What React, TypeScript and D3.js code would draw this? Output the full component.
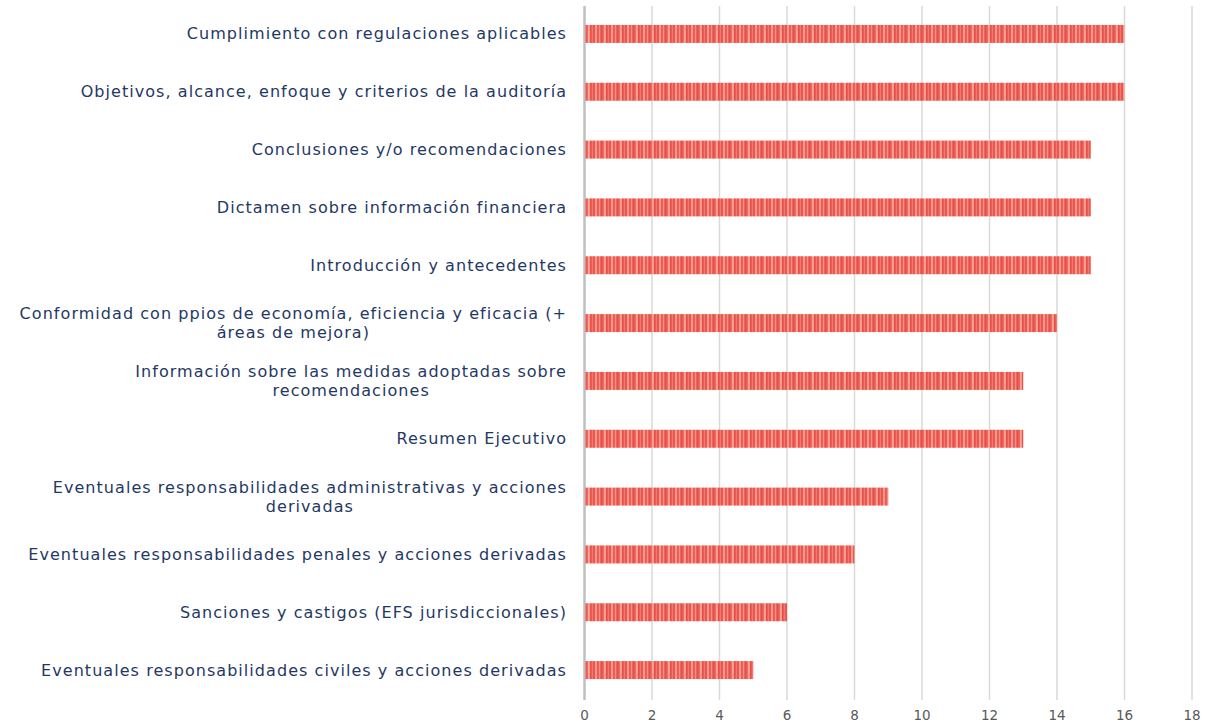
import React from "react";
import * as d3 from "d3";

// Topics, ordered from most to least frequent
const categories: string[][] = [
  ["Cumplimiento con regulaciones aplicables"],
  ["Objetivos, alcance, enfoque y criterios de la auditoría"],
  ["Conclusiones y/o recomendaciones"],
  ["Dictamen sobre información financiera"],
  ["Introducción y antecedentes"],
  ["Conformidad con ppios de economía, eficiencia y eficacia (+", "áreas de mejora)"],
  ["Información sobre las medidas adoptadas sobre", "recomendaciones"],
  ["Resumen Ejecutivo"],
  ["Eventuales responsabilidades administrativas y acciones", "derivadas"],
  ["Eventuales responsabilidades penales y acciones derivadas"],
  ["Sanciones y castigos (EFS jurisdiccionales)"],
  ["Eventuales responsabilidades civiles y acciones derivadas"],
];
const values: number[] = [16, 16, 15, 15, 15, 14, 13, 13, 9, 8, 6, 5];
const xTicks: number[] = [0, 2, 4, 6, 8, 10, 12, 14, 16, 18];

const W = 1207;
const H = 724;
const left = 584.5;
const right = 1192;
const top = 5;
const bottom = 699;

// vertical stripe tile used as bar fill
const stripes: [number, number, string][] = [
  [0, 1.5, "#e5392f"],
  [2.2, 1.2, "#ea5249"],
  [4, 1.2, "#fbd4cf"],
  [5.4, 1.5, "#e5392f"],
  [7.6, 1.0, "#ee6b61"],
  [9, 1.4, "#e5392f"],
  [10.9, 1.4, "#f9c3bc"],
  [12.6, 1.5, "#e63d33"],
  [14.6, 1.0, "#f29a91"],
];

export default function App() {
  const x = d3.scaleLinear().domain([0, 18]).range([left, right]);
  const y = d3
    .scaleBand<number>()
    .domain(d3.range(categories.length))
    .range([top, bottom])
    .paddingInner(0.69)
    .paddingOuter(0.345);
  const barH = 18;
  const font = "'DejaVu Sans', sans-serif";
  const labelRight = 567;
  const lineH = 19;

  return (
    <svg width={W} height={H} style={{ position: "absolute", left: 0, top: 0, background: "#fff" }}>
      <defs>
        <pattern id="barStripes" patternUnits="userSpaceOnUse" width={16} height={20} x={left}>
          <rect width={16} height={20} fill="#f3877d" />
          {stripes.map(([sx, sw, c], i) => (
            <rect key={i} x={sx} y={0} width={sw} height={20} fill={c} />
          ))}
        </pattern>
      </defs>
      {/* gridlines */}
      {xTicks.map((t) => (
        <line
          key={t}
          x1={x(t)}
          x2={x(t)}
          y1={6}
          y2={700}
          stroke={t === 0 ? "#bfbfbf" : "#d9d9d9"}
          strokeWidth={t === 0 ? 2.5 : 1.5}
        />
      ))}
      {/* bars */}
      {values.map((v, i) => {
        const cy = (y(i) as number) + y.bandwidth() / 2;
        return (
          <rect
            key={i}
            x={x(0) + 1}
            y={cy - barH / 2}
            width={x(v) - x(0) - 1}
            height={barH}
            fill="url(#barStripes)"
          />
        );
      })}
      {/* category labels */}
      {categories.map((lines, i) => {
        const cy = (y(i) as number) + y.bandwidth() / 2;
        const n = lines.length;
        return (
          <text
            key={i}
            fontFamily={font}
            fontSize={16}
            letterSpacing={1.05}
            fill="#1f3864"
            textAnchor={n > 1 ? "middle" : "end"}
            ref={(el) => {
              if (!el || n === 1) return;
              const first = el.querySelector("tspan") as SVGTextContentElement | null;
              if (!first) return;
              const w = first.getComputedTextLength();
              const cx = labelRight - w / 2;
              el.querySelectorAll("tspan").forEach((t) => t.setAttribute("x", String(cx)));
            }}
          >
            {lines.map((ln, j) => (
              <tspan key={j} x={labelRight} y={cy + (j - (n - 1) / 2) * lineH + 5.5}>
                {ln}
              </tspan>
            ))}
          </text>
        );
      })}
      {/* x axis tick labels */}
      {xTicks.map((t) => (
        <text
          key={t}
          x={x(t)}
          y={720}
          textAnchor="middle"
          fontFamily={font}
          fontSize={13.5}
          fill="#595959"
        >
          {t}
        </text>
      ))}
    </svg>
  );
}
